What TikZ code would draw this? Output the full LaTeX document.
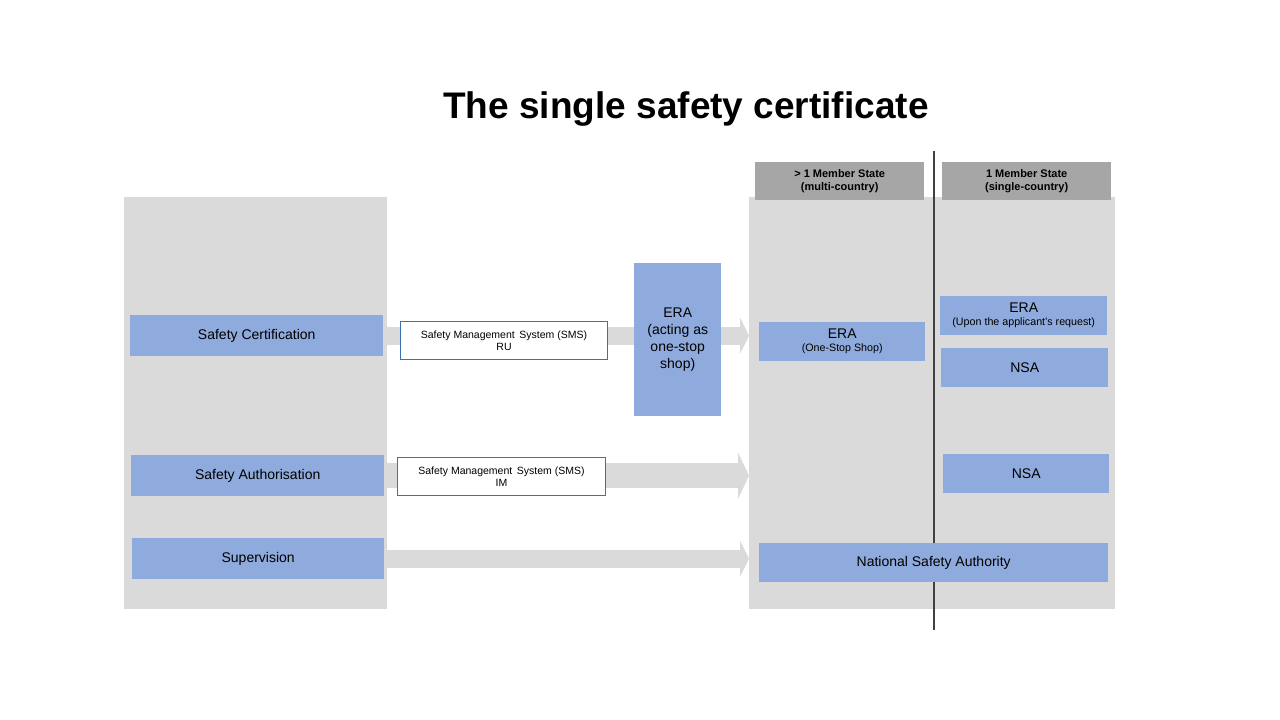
\documentclass[tikz,border=0pt]{standalone}
\usepackage{fontspec}
\setmainfont{Liberation Sans}
\usetikzlibrary{arrows.meta}

\definecolor{panelgrey}{HTML}{DADADA}
\definecolor{headgrey}{HTML}{A6A6A6}
\definecolor{boxblue}{HTML}{8FAADC}
\definecolor{edgeblue}{HTML}{3A72B0}
\definecolor{divgrey}{HTML}{404040}

\begin{document}
\begin{tikzpicture}[x=1pt,y=-1pt,
  panel/.style={fill=panelgrey, anchor=north west, inner sep=0pt},
  headbox/.style={fill=headgrey, anchor=north west, inner sep=0pt, align=center,
    font=\bfseries\fontsize{11}{12.5}\selectfont},
  bluebox/.style={fill=boxblue, anchor=north west, inner sep=0pt, align=center,
    font=\fontsize{14}{17}\selectfont},
  smsbox/.style={fill=white, draw=edgeblue, line width=1pt, anchor=north west,
    inner sep=0pt, align=center, font=\fontsize{10.5}{12.5}\selectfont},
  bigarrow/.style={draw=panelgrey, line width=18pt, -{Triangle[length=9pt, width=36pt]}},
  divider/.style={draw=divgrey, line width=1.3pt}]
\useasboundingbox (0,0) rectangle (1280,720);
\fill[white] (0,0) rectangle (1280,720);

\node[font=\bfseries\fontsize{37}{41}\selectfont] (title) at (686,109) {The single safety certificate};

% grey panels
\node[panel, minimum width=263, minimum height=412] (leftpanel) at (124,197) {};
\node[panel, minimum width=366, minimum height=412] (rightpanel) at (749,197) {};
\node[headbox, minimum width=169, minimum height=38] (headmulti) at (755,162) {> 1 Member State\\(multi-country)};
\node[headbox, minimum width=169, minimum height=38] (headsingle) at (942,162) {1 Member State\\(single-country)};

\coordinate (divtop) at (934,151);
\coordinate (divbot) at (934,630);
\draw[divider] (divtop) -- (divbot);

% left column
\node[bluebox, minimum width=253, minimum height=41] (cert) at (130,315) {Safety Certification};
\node[bluebox, minimum width=253, minimum height=41] (auth) at (131,455) {Safety Authorisation};
\node[bluebox, minimum width=252, minimum height=41] (sup) at (132,538) {Supervision};

% arrows
\draw[bigarrow] (leftpanel.east |- cert.east) -- (rightpanel.west |- cert.east);
\draw[bigarrow, line width=25pt, -{Triangle[length=11pt, width=46pt]}] (leftpanel.east |- auth.east) -- (rightpanel.west |- auth.east);
\draw[bigarrow] (leftpanel.east |- sup.east) -- (rightpanel.west |- sup.east);

\node[smsbox, minimum width=207, minimum height=38] (smsru) at (400,321) {Safety Management\, System (SMS)\\RU};
\node[smsbox, minimum width=208, minimum height=38] (smsim) at (397,457) {Safety Management\, System (SMS)\\IM};
\node[bluebox, minimum width=87, minimum height=153] (eraoss) at (634,263) {ERA\\(acting as\\one-stop\\shop)};

% right column
\node[bluebox, minimum width=166, minimum height=39] (eramulti) at (759,322)
  {ERA\\[-4pt]{\fontsize{10.7}{12}\selectfont (One-Stop Shop)}};
\node[bluebox, minimum width=167, minimum height=39] (erasingle) at (940,296)
  {ERA\\[-4pt]{\fontsize{10.7}{12}\selectfont (Upon the applicant's request)}};
\node[bluebox, minimum width=167, minimum height=39] (nsaone) at (941,348) {NSA};
\node[bluebox, minimum width=166, minimum height=39] (nsatwo) at (943,454) {NSA};
\node[bluebox, minimum width=349, minimum height=39] (nsafull) at (759,543) {National Safety Authority};
\end{tikzpicture}
\end{document}
